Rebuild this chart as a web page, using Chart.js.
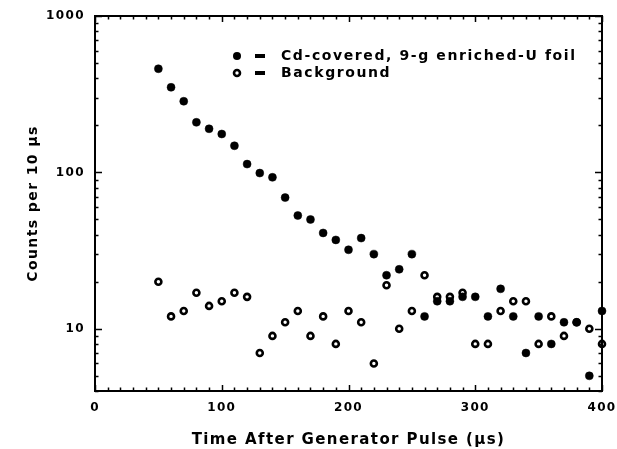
<!DOCTYPE html>
<html>
<head>
<meta charset="utf-8">
<script src="https://cdn.jsdelivr.net/npm/chart.js@4.4.1/dist/chart.umd.min.js"></script>
<style>
  html, body { margin: 0; padding: 0; background: #fff; }
  #wrap { width: 617px; height: 449px; position: relative; }
</style>
</head>
<body>
<div id="wrap"><canvas id="c" width="617" height="449"></canvas></div>
<script>
// ---- data ----
const times = [50, 60, 70, 80, 90, 100, 110, 120, 130, 140, 150, 160, 170, 180, 190, 200, 210, 220,
               230, 240, 250, 260, 270, 280, 290, 300, 310, 320, 330, 340, 350, 360, 370, 380, 390, 400];
const foilCounts = [460, 350, 285, 209, 190, 176, 148, 113, 99, 93, 69, 53, 50, 41, 37, 32, 38, 30,
                    22, 24, 30, 12, 15, 15, 16, 16, 12, 18, 12, 7, 12, 8, 11, 11, 5, 13];
const backgroundCounts = [20, 12, 13, 17, 14, 15, 17, 16, 7, 9, 11, 13, 9, 12, 8, 13, 11, 6,
                          19, 10, 13, 22, 16, 16, 17, 8, 8, 13, 15, 15, 8, 12, 9, 11, 10, 8];
const xTickLabels = [0, 100, 200, 300, 400];
const yTickLabels = [10, 100, 1000];
const seriesNames = ['Cd-covered, 9-g enriched-U foil', 'Background'];
const xTitle = 'Time After Generator Pulse (\u03bcs)';
const yTitle = 'Counts per 10 \u03bcs';

const FONT = '"DejaVu Sans", sans-serif';

const frameTicks = {
  id: 'frameTicks',
  beforeDraw(chart) {
    chart.ctx.letterSpacing = '1.4px';
  },
  afterDatasetsDraw(chart) {
    const ctx = chart.ctx, a = chart.chartArea;
    const xs = chart.scales.x, ys = chart.scales.y;
    ctx.save();
    ctx.strokeStyle = '#000';
    ctx.lineWidth = 2;
    ctx.strokeRect(a.left, a.top, a.right - a.left, a.bottom - a.top);
    ctx.lineWidth = 1.5;
    ctx.beginPath();
    for (let v = xs.min; v <= xs.max; v += 10) {
      const px = Math.round(xs.getPixelForValue(v)) + 0.5;
      const len = (v % 100 === 0) ? 6 : 3.5;
      ctx.moveTo(px, a.bottom); ctx.lineTo(px, a.bottom - len);
      ctx.moveTo(px, a.top); ctx.lineTo(px, a.top + len);
    }
    for (let d = 0; d <= 3; d++) {
      for (let m = 1; m <= 9; m++) {
        const v = m * Math.pow(10, d);
        if (v < ys.min || v > ys.max) continue;
        const py = Math.round(ys.getPixelForValue(v)) + 0.5;
        const len = (m === 1) ? 7 : 3.5;
        ctx.moveTo(a.left, py); ctx.lineTo(a.left + len, py);
        ctx.moveTo(a.right, py); ctx.lineTo(a.right - len, py);
      }
    }
    ctx.stroke();
    ctx.restore();
  },
  afterDraw(chart) {
    const ctx = chart.ctx, a = chart.chartArea;
    ctx.save();
    // legend
    const mx = a.left + 142, tx = a.left + 186, ex = a.left + 165;
    const rows = [a.top + 40, a.top + 57];
    ctx.fillStyle = '#000';
    ctx.beginPath(); ctx.arc(mx, rows[0], 4, 0, Math.PI * 2); ctx.fill();
    ctx.beginPath(); ctx.arc(mx, rows[1], 3, 0, Math.PI * 2);
    ctx.lineWidth = 2.6; ctx.strokeStyle = '#000'; ctx.fillStyle = '#fff'; ctx.fill(); ctx.stroke();
    ctx.fillStyle = '#000';
    rows.forEach(r => ctx.fillRect(ex - 5, r - 2, 10, 4));
    ctx.font = 'bold 14px ' + FONT;
    ctx.letterSpacing = '1.6px';
    ctx.textBaseline = 'middle';
    ctx.textAlign = 'left';
    ctx.fillText(seriesNames[0], tx, rows[0]);
    ctx.fillText(seriesNames[1], tx, rows[1]);
    ctx.restore();
  }
};

const PAD = { left: 0, right: 15, top: 16, bottom: 0 };

new Chart(document.getElementById('c'), {
  type: 'scatter',
  data: {
    datasets: [
      {
        label: seriesNames[0],
        data: times.map((t, i) => ({ x: t, y: foilCounts[i] })),
        pointRadius: 4,
        pointBackgroundColor: '#000',
        pointBorderColor: '#000',
        pointBorderWidth: 0.5,
        showLine: false,
        clip: false
      },
      {
        label: seriesNames[1],
        data: times.map((t, i) => ({ x: t, y: backgroundCounts[i] })),
        pointRadius: 3,
        pointBackgroundColor: '#fff',
        pointBorderColor: '#000',
        pointBorderWidth: 2.6,
        showLine: false,
        clip: false
      }
    ]
  },
  options: {
    responsive: false,
    animation: false,
    devicePixelRatio: 1,
    layout: { padding: PAD },
    plugins: { legend: { display: false }, tooltip: { enabled: false } },
    scales: {
      x: {
        type: 'linear',
        min: 0, max: 400,
        afterBuildTicks: s => { s.ticks = xTickLabels.map(v => ({ value: v })); },
        afterFit: s => { s.height = 449 - 391 - PAD.bottom; s.paddingRight = 0; s.paddingLeft = 0; },
        grid: { display: false, drawTicks: false },
        border: { display: false },
        ticks: { padding: 10, color: '#000', font: { family: FONT, size: 12, weight: 'bold' }, maxRotation: 0 },
        title: { display: true, text: xTitle, color: '#000', padding: { top: 3, bottom: 0 },
                 font: { family: FONT, size: 15, weight: 'bold' } }
      },
      y: {
        type: 'logarithmic',
        min: 4, max: 1000,
        afterBuildTicks: s => { s.ticks = yTickLabels.map(v => ({ value: v })); },
        afterFit: s => { s.width = 95 - PAD.left; s.paddingTop = 0; s.paddingBottom = 0; },
        grid: { display: false, drawTicks: false },
        border: { display: false },
        ticks: { padding: 10, color: '#000', font: { family: FONT, size: 12, weight: 'bold' },
                 callback: v => String(v) },
        title: { display: true, text: yTitle, color: '#000', padding: { top: 25, bottom: 0 },
                 font: { family: FONT, size: 14, weight: 'bold' } }
      }
    }
  },
  plugins: [frameTicks]
});
</script>
</body>
</html>
